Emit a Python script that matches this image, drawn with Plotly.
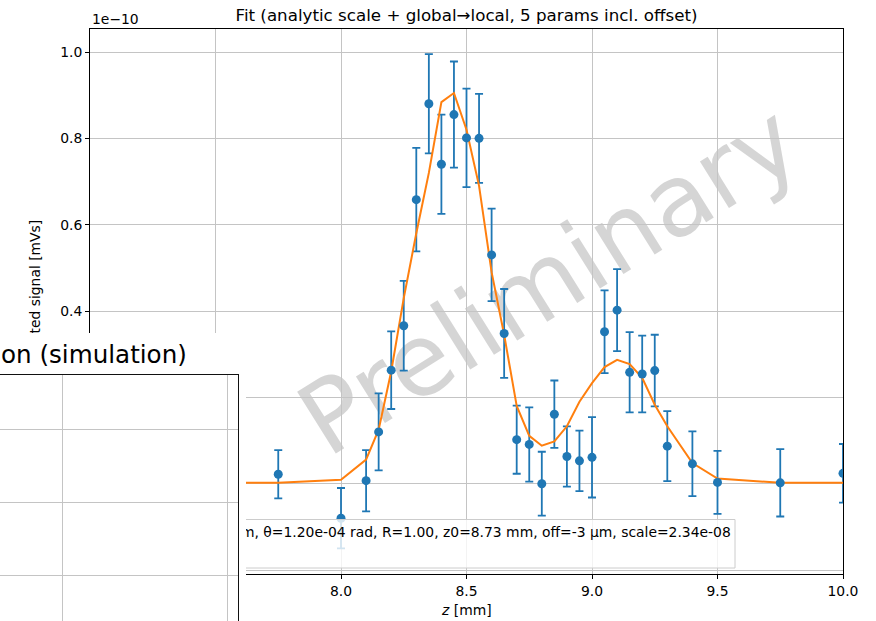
import plotly.graph_objects as go

# ---------------- data (signal in units of 1e-10 mVs) ----------------
z_mm = [7.75, 8.0, 8.1, 8.15, 8.2, 8.25, 8.3, 8.35, 8.4, 8.45, 8.5, 8.55, 8.6, 8.65,
        8.7, 8.75, 8.8, 8.85, 8.9, 8.95, 9.0, 9.05, 9.1, 9.15, 9.2, 9.25, 9.3, 9.4,
        9.5, 9.75, 10.0]
signal = [0.022, -0.080, 0.007, 0.120, 0.263, 0.366, 0.658, 0.880, 0.740, 0.855, 0.801,
          0.800, 0.530, 0.348, 0.102, 0.091, 0.000, 0.161, 0.063, 0.053, 0.061, 0.352,
          0.402, 0.258, 0.254, 0.262, 0.087, 0.046, 0.003, 0.002, 0.024]
signal_err = [0.056, 0.070, 0.071, 0.089, 0.090, 0.104, 0.120, 0.115, 0.115, 0.123, 0.114,
              0.103, 0.107, 0.103, 0.079, 0.086, 0.074, 0.078, 0.070, 0.070, 0.093, 0.096,
              0.095, 0.093, 0.089, 0.083, 0.081, 0.075, 0.073, 0.078, 0.068]

fit_z = [7.0, 7.5, 7.75, 8.0, 8.1, 8.15, 8.2, 8.25, 8.3, 8.35, 8.4, 8.45, 8.5, 8.55, 8.6,
         8.65, 8.7, 8.75, 8.8, 8.85, 8.9, 8.95, 9.0, 9.05, 9.1, 9.15, 9.2, 9.25, 9.3,
         9.4, 9.5, 9.75, 10.0]
fit_vals = [0.002, 0.002, 0.002, 0.009, 0.056, 0.125, 0.260, 0.430, 0.580, 0.720, 0.884,
            0.905, 0.820, 0.690, 0.490, 0.345, 0.180, 0.111, 0.088, 0.098, 0.133, 0.190,
            0.233, 0.270, 0.287, 0.277, 0.245, 0.183, 0.133, 0.048, 0.012, 0.002, 0.002]

x_ticks = [7.0, 7.5, 8.0, 8.5, 9.0, 9.5, 10.0]
y_ticks = [-0.2, 0.0, 0.2, 0.4, 0.6, 0.8, 1.0]

title_text = "Fit (analytic scale + global→local, 5 params incl. offset)"
legend_text = "m, θ=1.20e-04 rad, R=1.00, z0=8.73 mm, off=-3 µm, scale=2.34e-08"
ylabel_text = "Integrated signal [mVs]"
xlabel_text = "<i>z</i> [mm]"
inset_title = "on (simulation)"
watermark = "Preliminary"

BLUE = "#1f77b4"
ORANGE = "#ff7f0e"
GRID = "#c4c4c4"
FONT = "DejaVu Sans"
FS = 13.9  # 10 pt at 100 dpi

W, H = 876, 621
L, R, T, B = 90, 843, 29, 574


def px(x):
    return (x - L) / (R - L)


def py(y):
    return (B - y) / (B - T)


def rect_ann(x0, y0, x1, y1, color):
    return dict(x=px(x0), y=py(y0), xref="paper", yref="paper", xanchor="left",
                yanchor="top", width=max(1, x1 - x0), height=max(1, y1 - y0), text=" ",
                showarrow=False, bgcolor=color, borderpad=0, borderwidth=0,
                font=dict(size=1, color=color))


fig = go.Figure()
# error bars (beneath the fit line)
fig.add_trace(go.Scatter(x=z_mm, y=signal, mode="markers",
                         marker=dict(size=9, color=BLUE, opacity=0),
                         error_y=dict(type="data", array=signal_err, color=BLUE,
                                      thickness=1.8, width=4),
                         showlegend=False, hoverinfo="skip"))
fig.add_trace(go.Scatter(x=fit_z, y=fit_vals, mode="lines",
                         line=dict(color=ORANGE, width=2), showlegend=False))
fig.add_trace(go.Scatter(x=z_mm, y=signal, mode="markers",
                         marker=dict(size=9, color=BLUE), showlegend=False))

axis_common = dict(showgrid=True, gridcolor=GRID, gridwidth=1, showline=True, mirror=True,
                   linecolor="black", linewidth=1, ticks="outside", ticklen=4,
                   tickcolor="black", zeroline=False, tickformat=".1f",
                   tickfont=dict(family=FONT, size=FS, color="black"))

fig.update_xaxes(range=[7.0, 10.0], tickvals=x_ticks, **axis_common)
fig.update_yaxes(range=[(483.7 - 574) / 431.7, (483.7 - 29) / 431.7], tickvals=y_ticks,
                 **axis_common)

# watermark behind the data
fig.add_shape(type="rect", xref="paper", yref="paper", x0=px(445), x1=px(645),
              y0=py(324), y1=py(224), line=dict(width=0), fillcolor="rgba(0,0,0,0)",
              layer="between",
              label=dict(text=watermark, textposition="middle center", textangle=-32,
                         font=dict(family=FONT, size=100, color="rgba(128,128,128,0.33)")))

# legend box (semi-transparent, like matplotlib)
fig.add_shape(type="rect", xref="paper", yref="paper", x0=px(150), x1=px(735),
              y0=py(568), y1=py(519.5), fillcolor="rgba(255,255,255,0.8)",
              line=dict(color="#cccccc", width=1), layer="above")

ann = []
ann.append(dict(text=ylabel_text, x=px(34), y=py(301.5), xref="paper", yref="paper",
                textangle=-90, showarrow=False, xanchor="center", yanchor="middle",
                font=dict(family=FONT, size=FS, color="black")))
ann.append(dict(text=legend_text, x=px(239), y=py(532), xref="paper", yref="paper",
                showarrow=False, xanchor="left", yanchor="middle",
                font=dict(family=FONT, size=FS, color="black")))
# overlapping white panel of another figure
ann.append(rect_ann(-10, 333, 245.5, 640, "white"))
for gy in [429, 502, 575]:
    ann.append(rect_ann(-10, gy, 238, gy + 1, GRID))
for gx in [62, 227]:
    ann.append(rect_ann(gx, 374, gx + 1, 640, GRID))
ann.append(rect_ann(-10, 374, 238.5, 375.2, "#111111"))
ann.append(rect_ann(237.5, 374, 238.7, 640, "#111111"))
ann.append(dict(text=inset_title, x=px(189), y=py(354), xref="paper", yref="paper",
                showarrow=False, xanchor="right", yanchor="middle",
                font=dict(family=FONT, size=24.6, color="black")))
ann.append(dict(text="1e−10", x=px(90), y=py(19), xref="paper", yref="paper",
                showarrow=False, xanchor="left", yanchor="middle",
                font=dict(family=FONT, size=FS, color="black")))
ann.append(dict(text=xlabel_text, x=0.5, y=py(610), xref="paper", yref="paper",
                showarrow=False, xanchor="center", yanchor="middle",
                font=dict(family=FONT, size=FS, color="black")))

fig.update_layout(
    width=W, height=H,
    margin=dict(l=L, r=W - R, t=T, b=H - B, pad=0),
    paper_bgcolor="white", plot_bgcolor="white",
    title=dict(text=title_text, x=0.5, xref="paper", y=1 - 15.5 / H, yref="container",
               xanchor="center", yanchor="middle",
               font=dict(family=FONT, size=16.7, color="black")),
    annotations=ann,
    showlegend=False,
)

fig.write_html("out.html")
